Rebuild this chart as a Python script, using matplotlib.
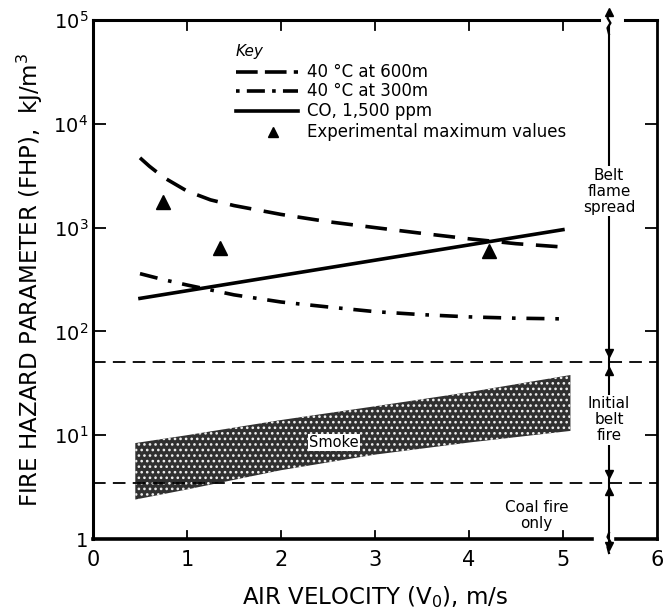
import numpy as np
import matplotlib
matplotlib.use("Agg")
import matplotlib.pyplot as plt
from matplotlib.transforms import IdentityTransform

plt.rcParams['hatch.linewidth'] = 1.1

# ---- data ----
v_600 = [0.5, 0.6, 0.75, 1.0, 1.25, 1.5, 2.0, 2.5, 3.0, 3.5, 4.0, 4.5, 5.0]
fhp_600 = [4700, 3900, 3050, 2250, 1850, 1630, 1340, 1140, 1000, 880, 780, 700, 650]

v_300 = [0.5, 0.75, 1.0, 1.5, 2.0, 2.5, 3.0, 3.5, 4.0, 4.5, 5.0]
fhp_300 = [360, 315, 280, 225, 192, 172, 155, 145, 138, 134, 132]

v_co = [0.5, 5.0]
fhp_co = [208, 955]

v_exp = [0.75, 1.35, 4.21]
fhp_exp = [1750, 640, 600]

smoke_v = [0.45, 1.0, 2.0, 3.0, 4.0, 5.08]
smoke_low = [2.4, 3.0, 4.6, 6.5, 8.5, 11.0]
smoke_high = [8.4, 10.0, 14.0, 19.0, 26.0, 38.0]

boundary_hi = 51
boundary_lo = 3.5

xticks = [0, 1, 2, 3, 4, 5, 6]
yticks = [1, 10, 100, 1000, 10000, 100000]
ytick_labels = ['1', '$10^1$', '$10^2$', '$10^3$', '$10^4$', '$10^5$']

legend_labels = ['40 °C at 600m', '40 °C at 300m', 'CO, 1,500 ppm',
                 'Experimental maximum values']

region_labels = ['Belt\nflame\nspread', 'Initial\nbelt\nfire', 'Coal fire\nonly']

# ---- figure ----
fig = plt.figure(figsize=(6.71, 6.13), dpi=100)
ax = fig.add_axes([0.1386, 0.1207, 0.8404, 0.8467])
ax.set_yscale('log')
ax.set_xlim(0, 6)
ax.set_ylim(1, 1e5)

lw = 2.6
ax.plot(v_600, fhp_600, color='black', lw=lw, dashes=(6, 3.5))
ax.plot(v_300, fhp_300, color='black', lw=lw, dashes=(5, 3, 1, 3))
ax.plot(v_co, fhp_co, color='black', lw=lw)
ax.plot(v_exp, fhp_exp, linestyle='none', marker='^', color='black', ms=10)

# smoke band (stippled)
ax.fill_between(smoke_v, smoke_low, smoke_high, facecolor='#303030',
                edgecolor='#f0f0f0', hatch='...', linewidth=0)
ax.text(2.3, 8.5, 'Smoke', fontsize=10.5, ha='left', va='center',
        bbox=dict(facecolor='white', edgecolor='none', pad=1.0))

# horizontal boundaries
for yb in (boundary_hi, boundary_lo):
    ax.axhline(yb, color='black', lw=1.3, dashes=(7, 4))

# vertical range line
xv = 5.49
ax.plot([xv, xv], [10 ** 4.93, 0.85], color='black', lw=1.5, clip_on=False)


def head(y, up):
    ax.plot([xv], [y], marker='^' if up else 'v', color='black', ms=6,
            clip_on=False, linestyle='none')


head(boundary_hi * 1.22, False)
head(boundary_hi / 1.22, True)
head(boundary_lo * 1.22, False)
head(boundary_lo / 1.22, True)
head(0.86, False)

# spines
for s in ('top', 'bottom'):
    ax.spines[s].set_visible(False)
ax.spines['left'].set_linewidth(2.2)
ax.spines['right'].set_linewidth(2.0)
ax.plot([0, 5.38], [1e5, 1e5], color='black', lw=2.2, clip_on=False)
ax.plot([5.66, 6.0], [1e5, 1e5], color='black', lw=2.2, clip_on=False)
ax.plot([0, 5.31], [1, 1], color='black', lw=2.6, clip_on=False)
ax.plot([5.56, 6.0], [1, 1], color='black', lw=2.6, clip_on=False)

# break squiggles (display coordinates)
fig.canvas.draw()
px_top = ax.transData.transform((xv, 1e5))
px_bot = ax.transData.transform((xv, 1))
sq_dx = [0, -1.5, 1.5, -1.5, 0]
sq_dy = [6, 2, -3, -8, -14]
ax.plot([px_top[0] + d for d in sq_dx], [px_top[1] + d for d in sq_dy],
        color='black', lw=1.6, transform=IdentityTransform(), clip_on=False)
ax.plot([px_top[0]], [px_top[1] + 8], marker='^', color='black', ms=6,
        transform=IdentityTransform(), clip_on=False)
ax.plot([px_bot[0] + d for d in sq_dx], [px_bot[1] + d for d in sq_dy],
        color='black', lw=1.6, transform=IdentityTransform(), clip_on=False)

# top & bottom ticks (manual because spines are broken)
for xt in [1, 2, 3, 4, 5]:
    ax.plot([xt, xt], [1e5, 10 ** 4.9], color='black', lw=1.3, clip_on=False)
    ax.plot([xt, xt], [1, 10 ** 0.08], color='black', lw=1.3, clip_on=False)

ax.set_xticks(xticks)
ax.set_xticklabels([str(t) for t in xticks])
ax.set_yticks(yticks)
ax.set_yticklabels(ytick_labels)
ax.minorticks_off()
ax.tick_params(axis='x', length=0, labelsize=15, pad=8)
ax.tick_params(axis='y', which='major', direction='in', length=9, width=1.3,
               labelsize=14, right=True, labelright=False)

ax.set_xlabel('AIR VELOCITY (V$_0$), m/s', fontsize=16.5, labelpad=10)
ax.set_ylabel('FIRE HAZARD PARAMETER (FHP),  kJ/m$^3$', fontsize=16.5, labelpad=6)

# key
ax.text(1.52, 10 ** 4.7, 'Key', fontsize=11, style='italic', ha='left', va='center')
rows = [10 ** 4.5, 10 ** 4.32, 10 ** 4.125, 10 ** 3.92]
x0, x1, xt0 = 1.52, 2.18, 2.28
ax.plot([x0, x1], [rows[0]] * 2, color='black', lw=lw, dashes=(6, 2))
ax.plot([x0, x1], [rows[1]] * 2, color='black', lw=lw, dashes=(1, 2, 5, 2))
ax.plot([x0, x1], [rows[2]] * 2, color='black', lw=lw)
ax.plot([1.92], [rows[3]], marker='^', color='black', ms=7, linestyle='none')
for r, lab in zip(rows, legend_labels):
    ax.text(xt0, r, lab, fontsize=12, ha='left', va='center')

# region labels
ax.text(xv, 10 ** 3.35, region_labels[0], fontsize=11, ha='center', va='center',
        linespacing=1.1, bbox=dict(facecolor='white', edgecolor='none', pad=1))
ax.text(xv, 10 ** 1.15, region_labels[1], fontsize=11, ha='center', va='center',
        linespacing=1.1, bbox=dict(facecolor='white', edgecolor='none', pad=1))
ax.text(4.72, 10 ** 0.23, region_labels[2], fontsize=11, ha='center', va='center',
        linespacing=1.1)

fig.savefig('out.png', dpi=100)
